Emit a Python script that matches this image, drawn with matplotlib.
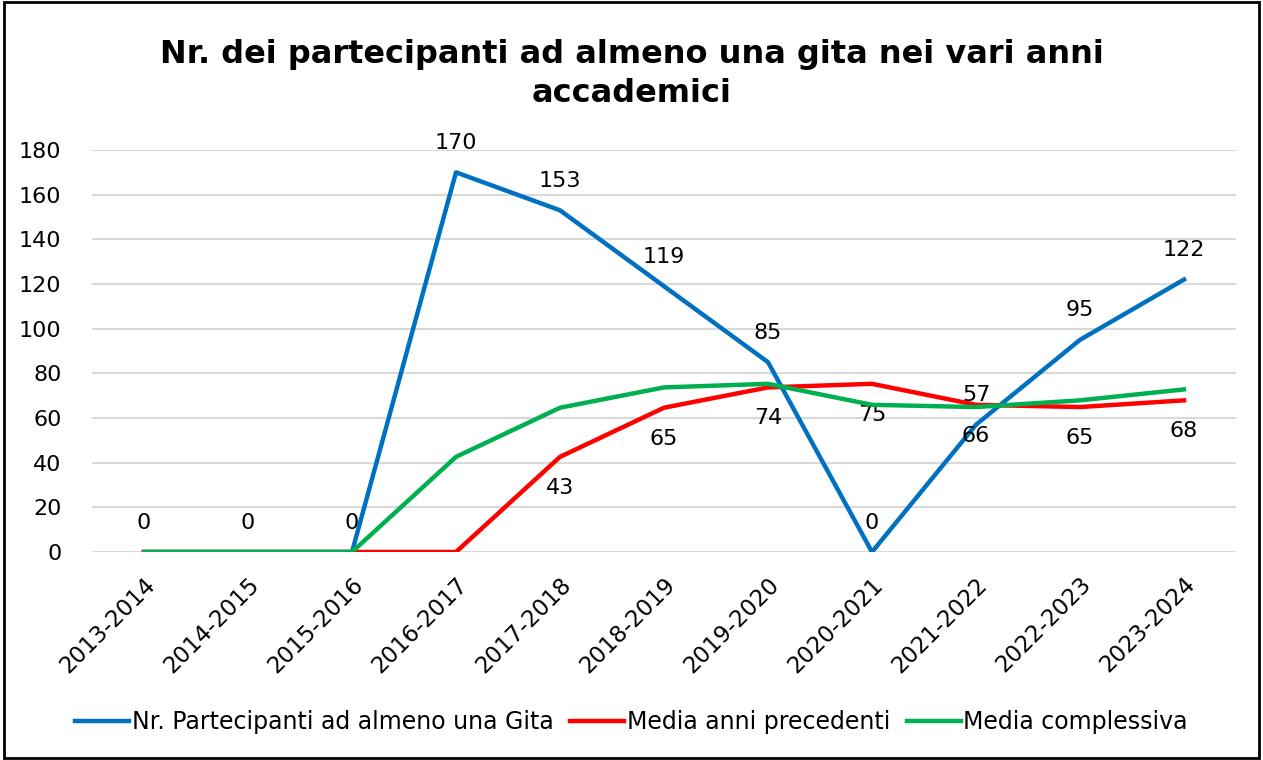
import matplotlib.pyplot as plt
from matplotlib.patches import Rectangle

anni = ["2013-2014", "2014-2015", "2015-2016", "2016-2017", "2017-2018", "2018-2019",
        "2019-2020", "2020-2021", "2021-2022", "2022-2023", "2023-2024"]
partecipanti = [0, 0, 0, 170, 153, 119, 85, 0, 57, 95, 122]
media_precedenti = [0, 0, 0, 0, 42.6, 64.6, 73.7, 75.3, 65.9, 64.9, 67.9]
media_complessiva = [0, 0, 0, 42.6, 64.6, 73.7, 75.3, 65.9, 64.9, 67.9, 72.8]

blue = "#0070C0"
red = "#FF0000"
green = "#00B050"

plt.rcParams['font.family'] = ['DejaVu Sans']

fig = plt.figure(figsize=(12.63, 7.6), dpi=100)
ax = fig.add_axes([92 / 1263, 1 - 552 / 760, (1236 - 92) / 1263, (552 - 150) / 760])

x = list(range(len(anni)))
ax.plot(x, partecipanti, color=blue, lw=3.2, label="Nr. Partecipanti ad almeno una Gita", zorder=3)
ax.plot(x, media_precedenti, color=red, lw=3.2, label="Media anni precedenti", zorder=3)
ax.plot(x, media_complessiva, color=green, lw=3.2, label="Media complessiva", zorder=4)

# etichette dati
for i, v in enumerate(partecipanti):
    ax.annotate(f"{v:.0f}", (i, v), xytext=(0, 14), textcoords="offset points",
                ha="center", va="bottom", fontsize=16)
for i, v in enumerate(media_precedenti):
    if v > 0:
        ax.annotate(f"{v:.0f}", (i, v), xytext=(0, -15), textcoords="offset points",
                    ha="center", va="top", fontsize=16)

ax.set_xlim(-0.5, len(anni) - 0.5)
ax.set_ylim(0, 180)
ax.set_yticks(range(0, 181, 20))
ax.set_xticks(x)
ax.set_xticklabels(anni, rotation=45, ha="right", rotation_mode="anchor", fontsize=16.5)
ax.tick_params(axis="y", labelsize=16, length=0, pad=22)
ax.tick_params(axis="x", length=0, pad=15)
ax.grid(axis="y", color="#D9D9D9", lw=1.5)
ax.set_axisbelow(True)
for s in ax.spines.values():
    s.set_visible(False)

fig.text(0.5, 1 - 74 / 760, "Nr. dei partecipanti ad almeno una gita nei vari anni\naccademici",
         ha="center", va="center", fontsize=23, fontweight="bold", linespacing=1.35)

fig.legend(loc="center", bbox_to_anchor=(0.5, 1 - 722 / 760), ncol=3, frameon=False,
           fontsize=17, handlelength=2.3, columnspacing=0.7, handletextpad=0.1)

fig.patches.append(Rectangle((0.003, 0.003), 0.994, 0.994, transform=fig.transFigure,
                             fill=False, edgecolor="black", lw=2))

fig.savefig("out.png", dpi=100)
